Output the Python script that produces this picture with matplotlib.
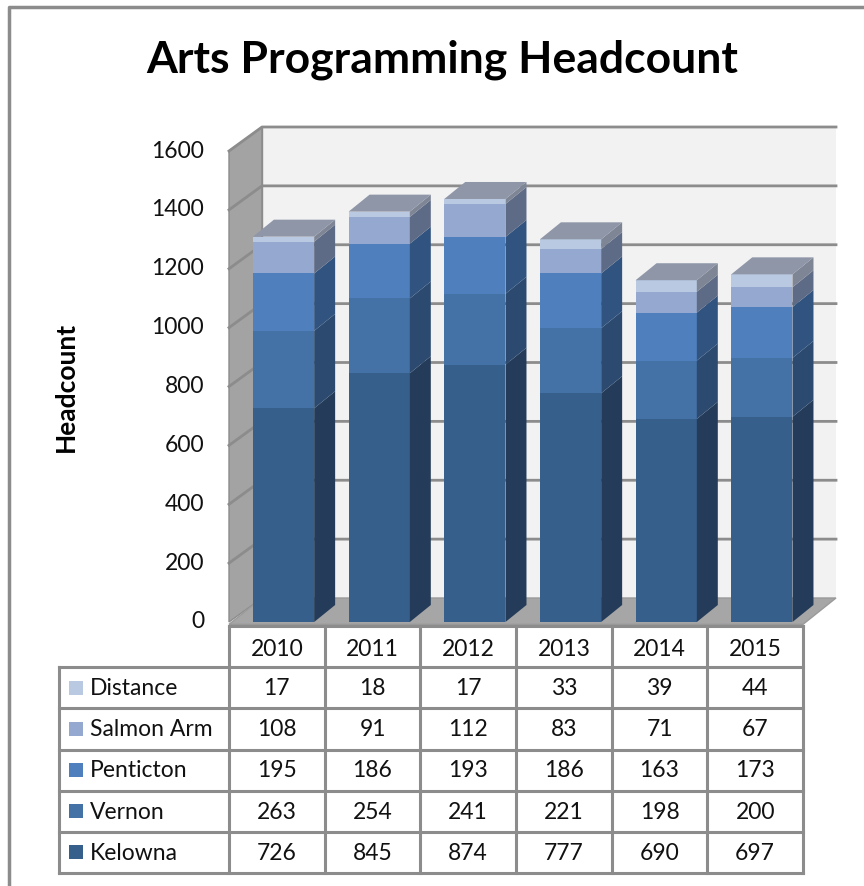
import matplotlib
matplotlib.use("Agg")
import matplotlib.pyplot as plt
from matplotlib.patches import Polygon, Rectangle
from matplotlib.lines import Line2D
import numpy as np

# ---- data ----
years = ["2010", "2011", "2012", "2013", "2014", "2015"]
series = ["Kelowna", "Vernon", "Penticton", "Salmon Arm", "Distance"]
kelowna = [726, 845, 874, 777, 690, 697]
vernon = [263, 254, 241, 221, 198, 200]
penticton = [195, 186, 193, 186, 163, 173]
salmon_arm = [108, 91, 112, 83, 71, 67]
distance = [17, 18, 17, 33, 39, 44]
yticks = [0, 200, 400, 600, 800, 1000, 1200, 1400, 1600]

values = [kelowna, vernon, penticton, salmon_arm, distance]
front_colors = ["#375F8B", "#4471A6", "#4F80BD", "#95A9D0", "#B9C9E2"]
side_colors = ["#243C59", "#2C4A70", "#31537F", "#5E6B86", "#7E8595"]
top_color = "#8E96A8"
legend_colors = ["#375F8B", "#4471A6", "#4F80BD", "#95A9D0", "#B9C9E2"]

W, H = 864, 886
fig = plt.figure(figsize=(W / 100, H / 100), dpi=100)
fig.patch.set_facecolor("white")

FONT = "Lato"
GRID = "#8C8C8C"
FS = 16.5

# main axes: x -0.5 -> px 229, 5.5 -> px 803 ; y 0 -> px 622, 1600 -> px 151
ax = fig.add_axes([229 / W, 1 - 622 / H, 574 / W, 471 / H])
ax.set_xlim(-0.5, 5.5)
ax.set_ylim(0, 1600)
ax.axis("off")

px_x = 574 / 6.0           # pixels per category unit
px_y = 471 / 1600.0        # pixels per value unit
wdx, wdy = 33 / px_x, 24 / px_y     # wall depth
bdx, bdy = 21 / px_x, 17 / px_y     # bar depth
ymax = 1600

# back wall
ax.add_patch(Rectangle((-0.5 + wdx, wdy), 6, ymax, facecolor="#F2F2F2",
                       edgecolor="none", clip_on=False, zorder=0))
# side wall
ax.add_patch(Polygon([(-0.5, 0), (-0.5 + wdx, wdy), (-0.5 + wdx, ymax + wdy), (-0.5, ymax)],
                     closed=True, facecolor="#A3A3A3", edgecolor="#8C8C8C", lw=1,
                     clip_on=False, zorder=1))
# floor
ax.add_patch(Polygon([(-0.5, -8), (5.5, -8), (5.5 + wdx, wdy), (-0.5 + wdx, wdy)],
                     closed=True, facecolor="#A6A6A6", edgecolor="#9A9A9A", lw=1,
                     clip_on=False, zorder=1))
# gridlines
for t in yticks[1:]:
    ax.add_line(Line2D([-0.5, -0.5 + wdx, 5.5 + wdx], [t, t + wdy, t + wdy],
                       color=GRID, lw=2.0, clip_on=False, zorder=2))
ax.add_line(Line2D([-0.5 + wdx, -0.5 + wdx], [wdy, ymax + wdy], color="#8C8C8C",
                   lw=1, clip_on=False, zorder=2))

# tick labels
for t in yticks:
    ax.text(-0.5 - 25 / px_x, t, str(t), ha="right", va="center",
            fontsize=FS, family=FONT, color="#111111", clip_on=False)

# bars
x = np.arange(len(years)) + 0.07
bw = 0.64
bottoms = np.zeros(len(years))
for k, vals in enumerate(values):
    vals = np.array(vals, dtype=float)
    bars = ax.bar(x, vals, width=bw, bottom=bottoms, color=front_colors[k],
                  edgecolor="none", zorder=5, clip_on=False)
    for b in bars:
        x0, y0 = b.get_x(), b.get_y()
        x1, y1 = x0 + b.get_width(), y0 + b.get_height()
        ax.add_patch(Polygon([(x1, y0), (x1 + bdx, y0 + bdy), (x1 + bdx, y1 + bdy), (x1, y1)],
                             closed=True, facecolor=side_colors[k], edgecolor="none",
                             zorder=5, clip_on=False))
        if k == len(values) - 1:
            ax.add_patch(Polygon([(x0, y1), (x1, y1), (x1 + bdx, y1 + bdy), (x0 + bdx, y1 + bdy)],
                                 closed=True, facecolor=top_color, edgecolor="none",
                                 zorder=5, clip_on=False))
    bottoms = bottoms + vals

# ---- data table ----
leg_left = -0.5 - (229 - 59) / px_x
tax = fig.add_axes([59 / W, 1 - 873 / H, (803 - 59) / W, (873 - 626) / H])
tax.set_xlim(leg_left, 5.5)
tax.set_ylim(6, 0)
tax.axis("off")
tax.set_facecolor("none")

TL = dict(color=GRID, lw=2.2, clip_on=False, solid_capstyle="projecting")
tax.add_line(Line2D([-0.5, 5.5], [0, 0], **TL))
for i in range(7):
    tax.add_line(Line2D([i - 0.5, i - 0.5], [0, 6], **TL))
for r in range(1, 7):
    tax.add_line(Line2D([leg_left, 5.5], [r, r], **TL))
tax.add_line(Line2D([leg_left, leg_left], [1, 6], **TL))

for i, yr in enumerate(years):
    tax.text(i, 0.58, yr, ha="center", va="center", fontsize=FS, family=FONT, color="#111111")

row_order = list(range(len(series)))[::-1]   # Distance at top
for r, k in enumerate(row_order):
    yrow = r + 1.5
    sq = 14 / px_x
    tax.add_patch(Rectangle((leg_left + 10 / px_x, yrow - 0.17), sq, 0.34,
                            facecolor=legend_colors[k], edgecolor="none"))
    tax.text(leg_left + 31 / px_x, yrow + 0.02, series[k], ha="left", va="center",
             fontsize=FS, family=FONT, color="#111111")
    for i in range(len(years)):
        tax.text(i, yrow + 0.02, str(values[k][i]), ha="center", va="center",
                 fontsize=FS, family=FONT, color="#111111")

# ---- title, y label, frame ----
fig.text(442 / W, 1 - 60 / H, "Arts Programming Headcount", ha="center", va="center",
         fontsize=32, fontweight="bold", family=FONT, color="black")
fig.text(66 / W, 1 - 387 / H, "Headcount", ha="center", va="center", rotation=90,
         fontsize=19, fontweight="bold", family=FONT, color="black")
fig.add_artist(Line2D([9 / W, 9 / W, 1.0], [0.0, 1 - 7 / H, 1 - 7 / H],
                      transform=fig.transFigure, color="#8C8C8C", lw=2.5))

fig.savefig("out.png", dpi=100, facecolor="white")
